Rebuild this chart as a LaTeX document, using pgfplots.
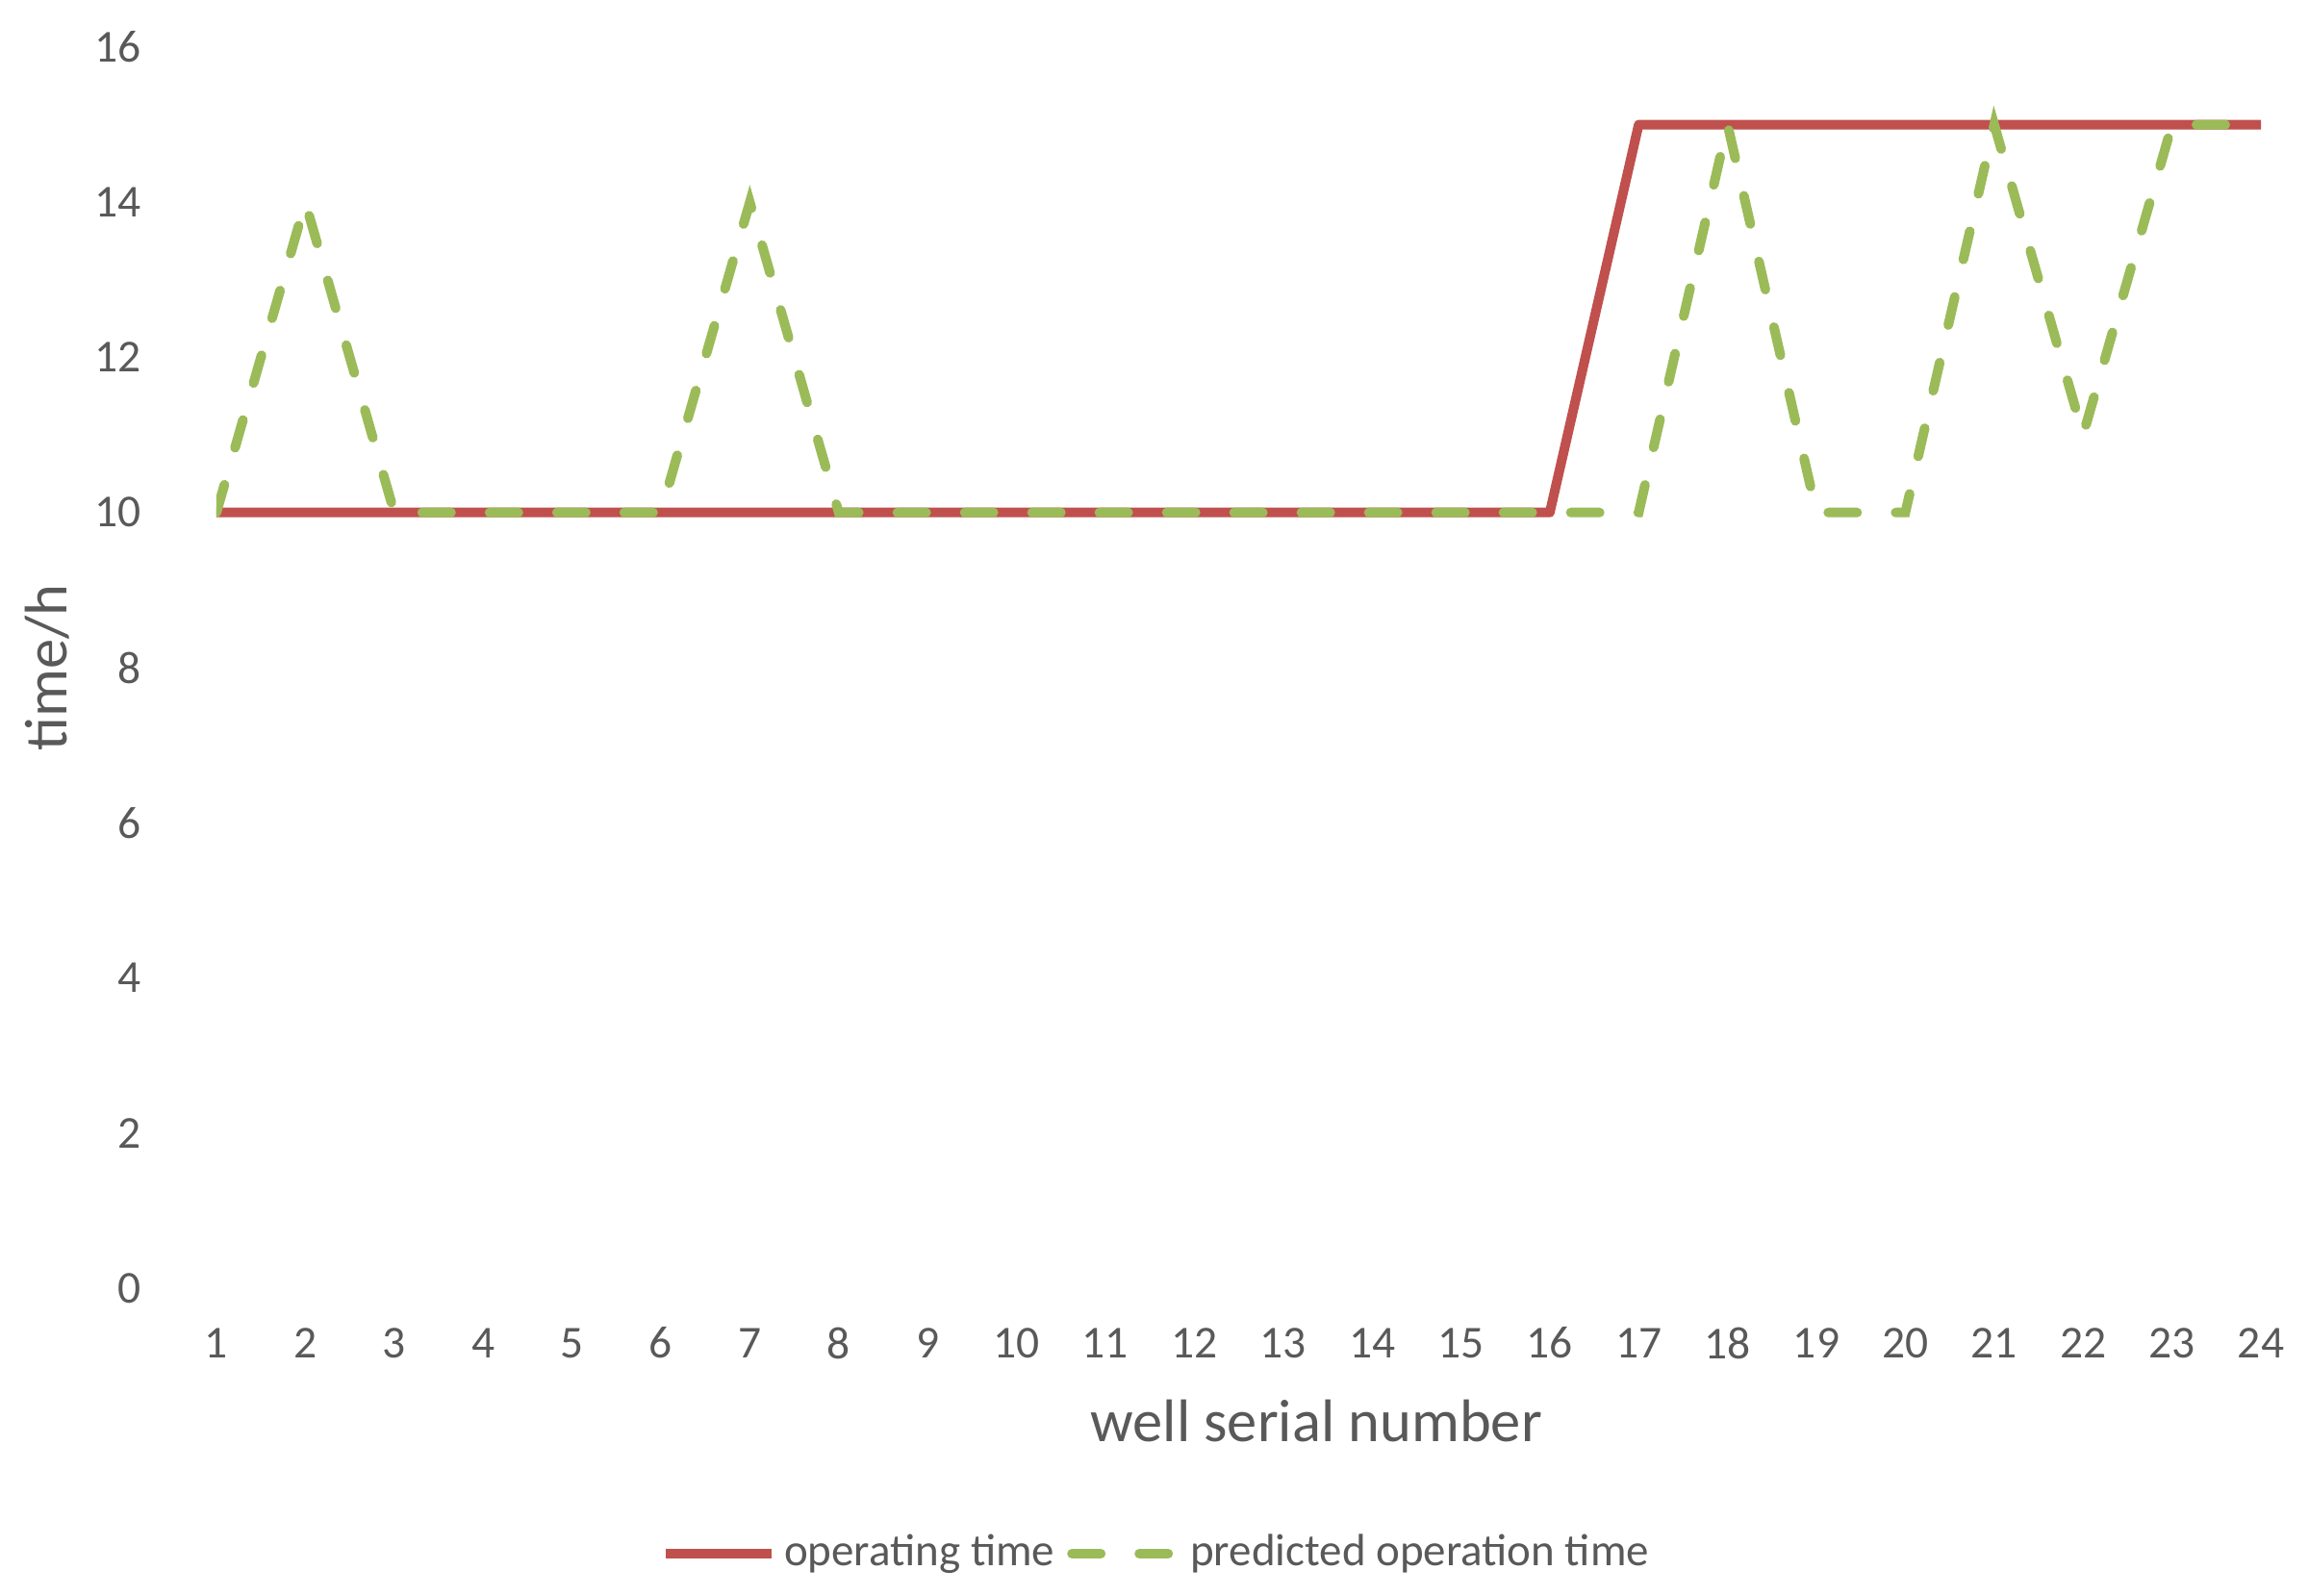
\documentclass[border=0pt]{standalone}
\usepackage{pgfplots}
\pgfplotsset{compat=1.18}
\usepackage{fontspec}
\setmainfont{Carlito}
\definecolor{redline}{HTML}{C0504D}
\definecolor{greenline}{HTML}{9BBB59}
\definecolor{txt}{HTML}{595959}
\begin{document}
\begin{tikzpicture}
\useasboundingbox (-45pt,-64pt) rectangle (435pt,267.8pt);
\begin{axis}[
  at={(0,0)}, anchor=south west,
  scale only axis, width=425pt, height=258pt,
  xmin=1, xmax=24, ymin=0, ymax=16,
  xtick={1,...,24}, ytick={0,2,...,16},
  axis line style={draw=none}, major tick length=0pt,
  /pgf/number format/assume math mode=true,
  tick label style={font=\fontsize{9.5}{11}\selectfont, text=txt},
  xticklabel style={inner sep=0pt, anchor=center, yshift=-11.4pt},
  yticklabel style={inner sep=0pt, anchor=east, xshift=-15.4pt},
  xlabel={well serial number}, ylabel={time/h},
  label style={font=\fontsize{12.5}{14}\selectfont, text=txt},
  xlabel style={at={(rel axis cs:0.538,0)}, anchor=center, yshift=-27.6pt},
  ylabel style={at={(rel axis cs:0,0.5)}, anchor=center, yshift=35.2pt},
  legend style={at={(rel axis cs:0.461,0)}, anchor=center, yshift=-55.2pt,
    draw=none, fill=none, font=\fontsize{9.4}{11}\selectfont, text=txt,
    legend columns=2, inner sep=0pt, nodes={inner sep=1.6pt},
    /tikz/every even column/.append style={column sep=1pt}},
  legend cell align=left,
  legend image code/.code={\draw[#1] (0pt,0pt) -- (22pt,0pt);},
]
\addplot[redline, line width=2pt, line join=round] coordinates {
(1,10) (2,10) (3,10) (4,10) (5,10) (6,10) (7,10) (8,10) (9,10) (10,10) (11,10) (12,10)
(13,10) (14,10) (15,10) (16,10) (17,15) (18,15) (19,15) (20,15) (21,15) (22,15) (23,15) (24,15)};
\addlegendentry{operating time}
\addplot[greenline, line width=2pt, line cap=round, dash pattern=on 6pt off 8pt] coordinates {
(1,10) (2,14) (3,10) (4,10) (5,10) (6,10) (7,14) (8,10) (9,10) (10,10) (11,10) (12,10)
(13,10) (14,10) (15,10) (16,10) (17,10) (18,15) (19,10) (20,10) (21,15) (22,11) (23,15) (24,15)};
\addlegendentry{predicted operation time}
\end{axis}
\end{tikzpicture}
\end{document}
